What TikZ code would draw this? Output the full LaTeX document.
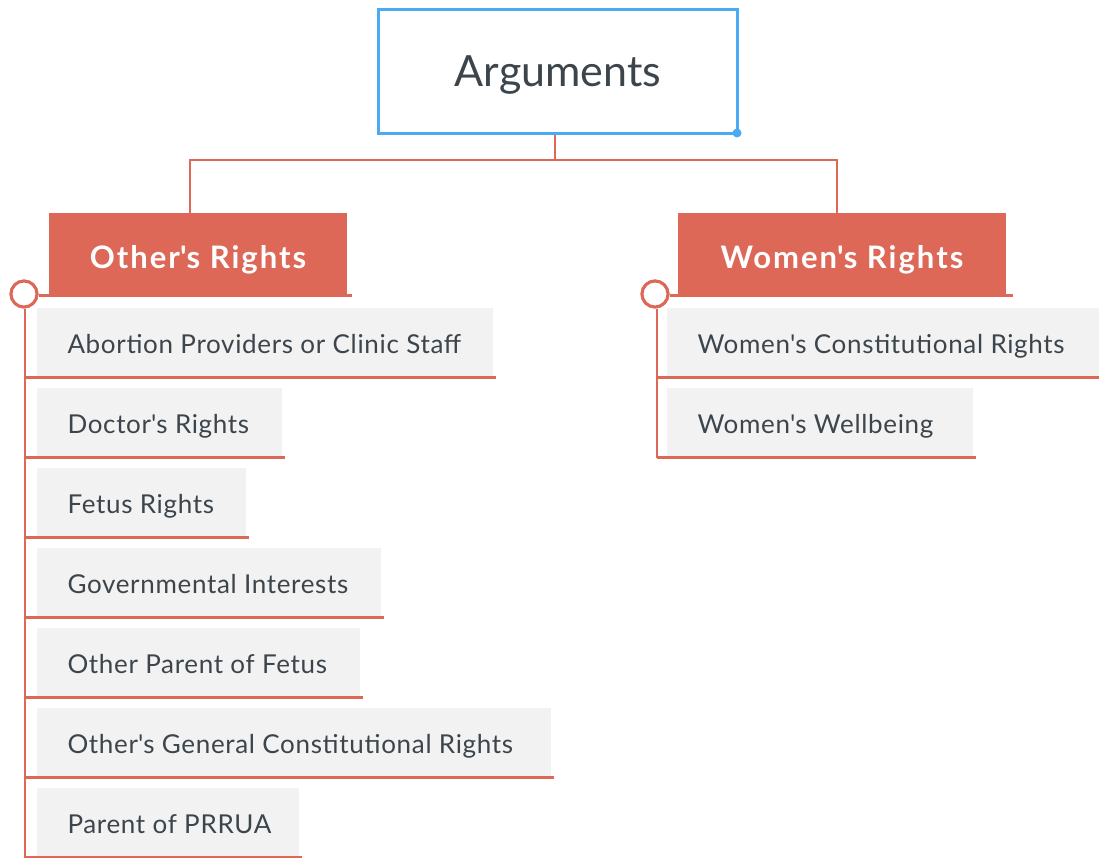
\documentclass[tikz,border=0pt]{standalone}
\usepackage{fontspec}
\setmainfont{Lato}
\newfontfamily\leaffont{Lato}[LetterSpace=2.6]
\newfontfamily\headfont{Lato}[LetterSpace=6.5]
\definecolor{rd}{HTML}{DD6858}
\definecolor{bl}{HTML}{4AABF5}
\definecolor{gy}{HTML}{F2F2F2}
\definecolor{tx}{HTML}{3D454C}
\newcommand{\apo}{\textquotesingle}
\begin{document}
\begin{tikzpicture}[x=1pt,y=-1pt,
 rootbox/.style={draw=bl, line width=3pt, fill=white, minimum width=359pt, minimum height=124pt,
   font=\fontsize{43}{50}\selectfont, text=tx, inner sep=0, text height=31pt, text depth=0pt},
 headbox/.style={fill=rd, text=white, font=\headfont\fontsize{31}{36}\selectfont\bfseries, minimum height=84pt,
   inner sep=0, outer sep=0, anchor=north west, text height=26.5pt, text depth=0pt},
 leaf/.style={fill=gy, text=tx, font=\leaffont\fontsize{26}{30}\selectfont, minimum height=70pt,
   inner xsep=30.5pt, inner ysep=0, outer sep=0, anchor=north west, text height=22pt, text depth=0pt},
 link/.style={draw=rd, line width=2.5pt},
 headline/.style={draw=rd, line width=3pt},
 knob/.style={circle, draw=rd, fill=white, line width=3pt, minimum size=26pt, inner sep=0},
]
\useasboundingbox (0,0) rectangle (1099,858);

% root
\node[rootbox] (root) at (558,71.5) {Arguments};
\fill[bl] ([shift={(-2,-2)}]root.south east) circle (4.5pt);

% headers
\node[headbox, minimum width=298pt] (h1) at (49,213) {Other\apo s Rights};
\node[headbox, minimum width=328pt] (h2) at (678,213) {Women\apo s Rights};

% bus
\coordinate (bus) at (555,160);
\draw[link] (root.south -| bus) -- (bus);
\draw[link] ([xshift=-8pt]h1.north) |- (bus) -| ([xshift=-5pt]h2.north);

% left leaves
\node[leaf] (l1) at (37,307.5) {\makebox[395pt][l]{Abortion Providers or Clinic Staff}};
\node[leaf] (l2) at (37,387.5) {\makebox[184pt][l]{Doctor\apo s Rights}};
\node[leaf] (l3) at (37,467.5) {\makebox[148pt][l]{Fetus Rights}};
\node[leaf] (l4) at (37,547.5) {\makebox[283pt][l]{Governmental Interests}};
\node[leaf] (l5) at (37,627.5) {\makebox[262pt][l]{Other Parent of Fetus}};
\node[leaf] (l6) at (37,707.5) {\makebox[453pt][l]{Other\apo s General Constitutional Rights}};
\node[leaf] (l7) at (37,787.5) {\makebox[201pt][l]{Parent of PRRUA}};

% right leaves
\node[leaf] (r1) at (667,307.5) {\makebox[371pt][l]{Women\apo s Constitutional Rights}};
\node[leaf] (r2) at (667,387.5) {\makebox[245pt][l]{Women\apo s Wellbeing}};

% knobs
\node[knob] (k1) at (24,294) {};
\node[knob] (k2) at (655,294) {};

% header underlines
\draw[headline] (k1.east |- 0,296) -- ([shift={(5,-1)}]h1.south east);
\draw[headline] (k2.east |- 0,296) -- ([shift={(7,-1)}]h2.south east);

% left tree
\draw[link] ([xshift=1pt]k1.south) -- ([xshift=1pt]k1.south |- l7.south);
\foreach \n in {l1,l2,l3,l4,l5,l6,l7}{
  \draw[link] ([xshift=1pt]k1.south |- \n.south) -- ([xshift=3pt]\n.south east);
}
% right tree
\draw[link] ([xshift=2pt]k2.south) -- ([xshift=2pt]k2.south |- r2.south);
\foreach \n in {r1,r2}{
  \draw[link] ([xshift=2pt]k2.south |- \n.south) -- ([xshift=3pt]\n.south east);
}
\node[knob] at (k1) {};
\node[knob] at (k2) {};
\end{tikzpicture}
\end{document}
